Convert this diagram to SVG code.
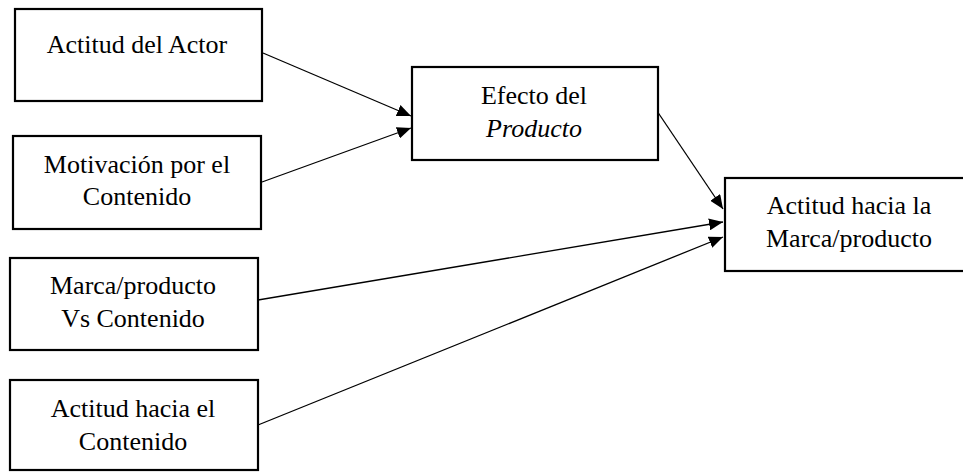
<svg xmlns="http://www.w3.org/2000/svg" width="963" height="472" viewBox="0 0 963 472">
<style>
.box{fill:#fff;stroke:#000;stroke-width:2.2}
.t{font-family:"Liberation Serif","Times New Roman",serif;font-size:26px;fill:#000;text-anchor:middle}
.c{stroke:#000;stroke-width:1.3;fill:none;marker-end:url(#ah)}
</style>
<defs>
<marker id="ah" viewBox="0 0 14 12" refX="14" refY="6" markerWidth="14" markerHeight="12" markerUnits="userSpaceOnUse" orient="auto">
<path d="M0,0 L14,6 L0,12 Z" fill="#000"/>
</marker>
</defs>
<rect width="963" height="472" fill="#fff"/>
<g id="connectors">
<line class="c" x1="263" y1="53" x2="411" y2="116"/>
<line class="c" x1="262" y1="182" x2="411" y2="128"/>
<line class="c" x1="657" y1="111" x2="723" y2="209"/>
<line class="c" x1="258" y1="300" x2="723" y2="222"/>
<line class="c" x1="258" y1="425" x2="723" y2="237"/>
</g>
<g id="n1">
<rect class="box" x="15" y="9" width="247" height="92"/>
<text class="t" x="137" y="53">Actitud del Actor</text>
</g>
<g id="n2">
<rect class="box" x="13" y="136" width="248" height="93"/>
<text class="t" x="137" y="173">Motivación por el</text>
<text class="t" x="137" y="205">Contenido</text>
</g>
<g id="n3">
<rect class="box" x="10" y="258" width="248" height="92"/>
<text class="t" x="133" y="294">Marca/producto</text>
<text class="t" x="133" y="327">Vs Contenido</text>
</g>
<g id="n4">
<rect class="box" x="10" y="380" width="248" height="90"/>
<text class="t" x="133" y="417">Actitud hacia el</text>
<text class="t" x="133" y="450">Contenido</text>
</g>
<g id="n5">
<rect class="box" x="412" y="67" width="246" height="93"/>
<text class="t" x="534" y="104">Efecto del</text>
<text class="t" x="534" y="137" font-style="italic">Producto</text>
</g>
<g id="n6">
<rect class="box" x="725" y="178" width="250" height="93"/>
<text class="t" x="849" y="214">Actitud hacia la</text>
<text class="t" x="849" y="247">Marca/producto</text>
</g>
</svg>
